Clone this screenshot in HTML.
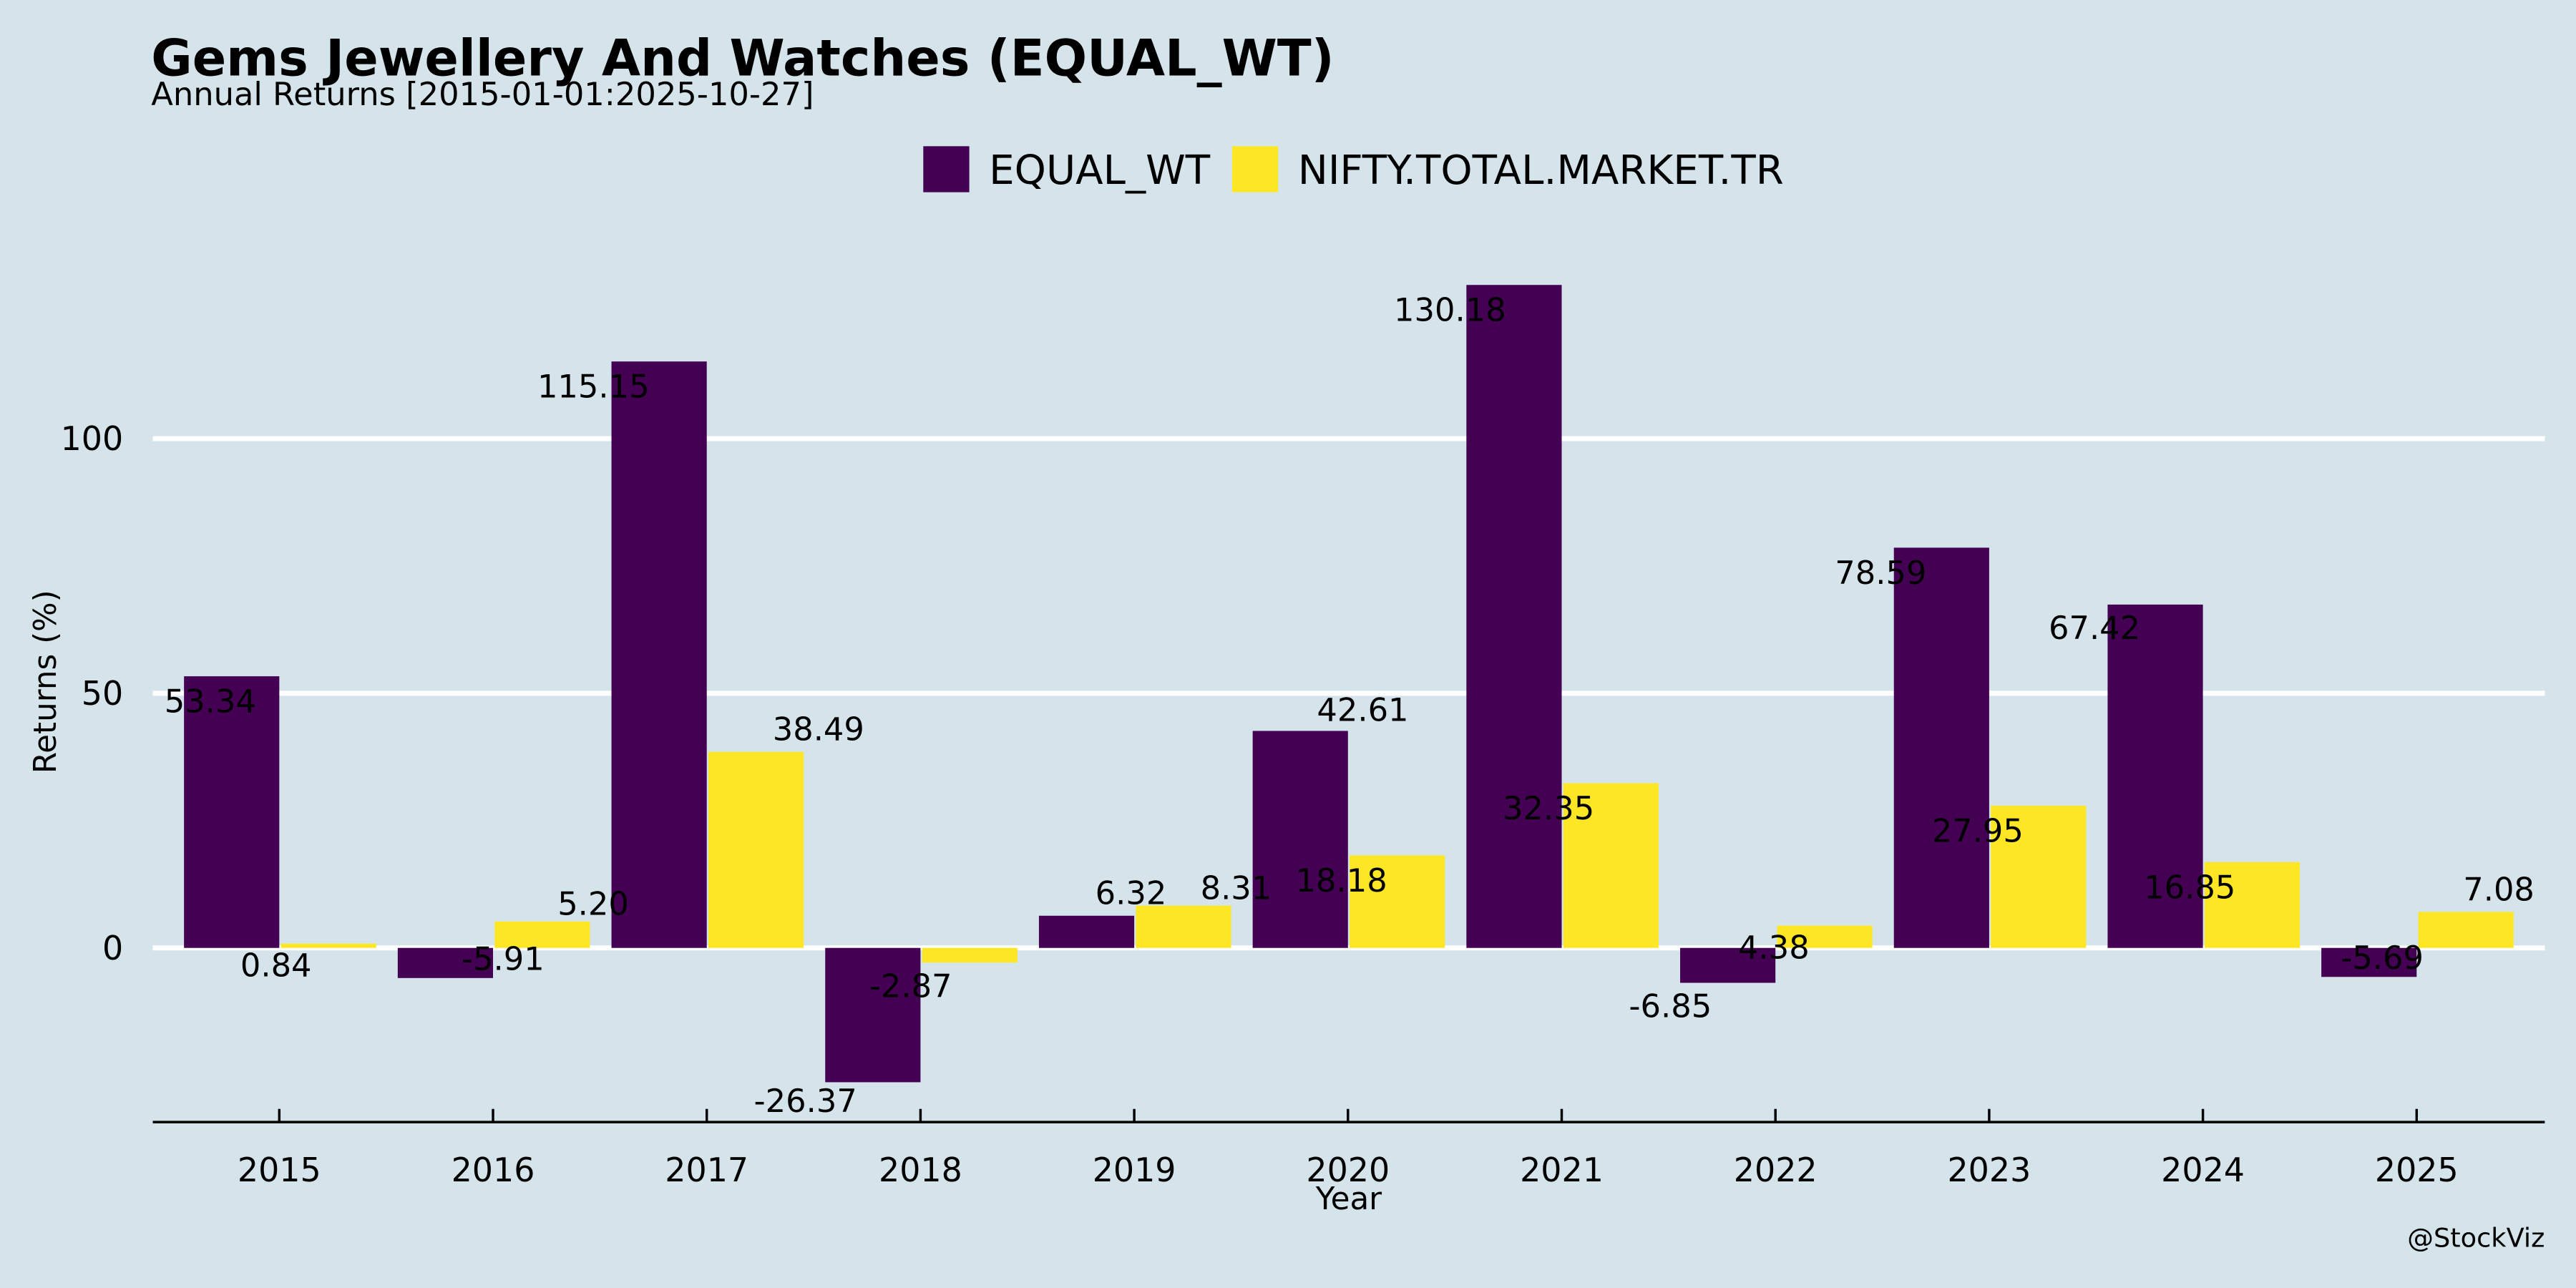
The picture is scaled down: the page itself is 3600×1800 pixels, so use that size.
<!DOCTYPE html>
<html><head><meta charset="utf-8"><style>
html,body{margin:0;padding:0;background:#d5e4eb;}
svg{display:block;font-family:"DejaVu Sans","Liberation Sans",sans-serif;}
</style></head><body>
<svg id="chart" width="3600" height="1800" viewBox="0 0 1568 784" xmlns="http://www.w3.org/2000/svg">
<rect x="0" y="0" width="1568" height="784" fill="#d5e4eb"/>
<text x="92" y="46" font-size="30.5" font-weight="bold" fill="#000">Gems Jewellery And Watches (EQUAL_WT)</text>
<text x="92" y="64" font-size="19.5" fill="#000">Annual Returns [2015-01-01:2025-10-27]</text>
<g>
<rect x="562" y="89" width="28" height="28" fill="#440154"/>
<text x="602" y="112" font-size="24.5">EQUAL_WT</text>
<rect x="750" y="89" width="28" height="28" fill="#fde725"/>
<text x="790" y="112" font-size="24.5">NIFTY.TOTAL.MARKET.TR</text>
</g>
<g id="grid"></g>
<g id="bars"></g>
<g id="labels"></g>
<line x1="93" y1="683" x2="1549" y2="683" stroke="#000" stroke-width="1.5"/>
<g id="xticks"></g>
<text x="821" y="736" font-size="19" text-anchor="middle">Year</text>
<text transform="translate(34,415) rotate(-90)" font-size="19" text-anchor="middle">Returns (%)</text>
<text x="1549" y="759" font-size="16" text-anchor="end">@StockViz</text>
</svg>
<script>
const years = [2015,2016,2017,2018,2019,2020,2021,2022,2023,2024,2025];
const equalWt = [53.34,-5.91,115.15,-26.37,6.32,42.61,130.18,-6.85,78.59,67.42,-5.69];
const nifty = [0.84,5.20,38.49,-2.87,8.31,18.18,32.35,4.38,27.95,16.85,7.08];
const yTicks = [0,50,100];
const purpleNudge = [[-13,15],[35,-12],[-40,15],[-41,11],[27,-14],[38,-13],[-39,15],[-35,14],[-37,15],[-37,14],[8,-12]];
const yellowNudge = [[-31,13],[32,-11],[39,-14],[-35,14],[33,-11],[-33,15],[-37,15],[-30,13],[-36,15],[-37,15],[21,-14]];

const NS="http://www.w3.org/2000/svg";
function y(v){return 577-3.1*v;}
function x(i){return 170+130.1*i;}
const BW=58;
function mk(tag,attrs,parent){const e=document.createElementNS(NS,tag);for(const k in attrs)e.setAttribute(k,attrs[k]);parent.appendChild(e);return e;}
const grid=document.getElementById('grid'),bars=document.getElementById('bars'),labels=document.getElementById('labels'),xt=document.getElementById('xticks');
yTicks.forEach(t=>{
  const l=mk('line',{x1:93,x2:1549,y1:y(t),y2:y(t),stroke:'#fff','stroke-width':3},grid);
  
  
  const tx=mk('text',{x:75,y:y(t)+7,'font-size':20,'text-anchor':'end'},grid);
  tx.textContent=t;
  
  
});
years.forEach((yr,i)=>{
  const cx=x(i);
  const a=equalWt[i],b=nifty[i];
  const r1=mk('rect',{x:cx-BW,y:Math.min(y(a),y(0)),width:BW,height:Math.abs(y(a)-y(0)),fill:'#440154'},bars);
  
  
  const r2=mk('rect',{x:cx+1,y:Math.min(y(b),y(0)),width:BW,height:Math.abs(y(b)-y(0)),fill:'#fde725'},bars);
  
  
  const t1=mk('text',{x:cx-BW/2+purpleNudge[i][0],y:y(a)+purpleNudge[i][1]+7,'font-size':19.5,'text-anchor':'middle'},labels);
  t1.textContent=a.toFixed(2);
  
  
  const t2=mk('text',{x:cx+BW/2+yellowNudge[i][0],y:y(b)+yellowNudge[i][1]+7,'font-size':19.5,'text-anchor':'middle'},labels);
  t2.textContent=b.toFixed(2);
  
  
  const tk=mk('line',{x1:cx,x2:cx,y1:675,y2:683,stroke:'#000','stroke-width':1.5},xt);
  
  
  const tl=mk('text',{x:cx,y:719,'font-size':20,'text-anchor':'middle'},xt);
  tl.textContent=yr;
  
  
});
</script>
</body></html>
